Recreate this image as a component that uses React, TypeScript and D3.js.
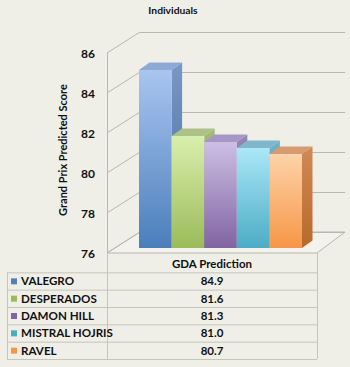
import React from "react";
import * as d3 from "d3";

const title = "Individuals";
const yTitle = "Grand Prix Predicted Score";
const seriesName = "GDA Prediction";
const categories = ["VALEGRO", "DESPERADOS", "DAMON HILL", "MISTRAL HOJRIS", "RAVEL"];
const values = [84.9, 81.6, 81.3, 81.0, 80.7];
const valueLabels = ["84.9", "81.6", "81.3", "81.0", "80.7"];
const yTicks = [76, 78, 80, 82, 84, 86];
const frontTop = ["#a9c5f0", "#d9efad", "#cdbfe4", "#abe7f8", "#fdd3a9"];
const frontBottom = ["#4a7ebb", "#9bbb59", "#8064a2", "#4bacc6", "#f79646"];
const sideTop = ["#7b97c6", "#a3bb78", "#9886b5", "#6fb3c9", "#d08a55"];
const sideBottom = ["#3e689c", "#7e9a45", "#65508a", "#3a8ca3", "#b8692b"];
const topFace = ["#8fa9d7", "#aac287", "#a797c4", "#80b6ca", "#d69b71"];
const legendColors = ["#4f81bd", "#9bbb59", "#8064a2", "#4bacc6", "#f79646"];

const W = 350, H = 367;
const FONT = "Lato, 'Open Sans', sans-serif";
const GRID = "#b9b8ae";
const TABLE = "#c6c5bb";

export default function App() {
  const yFront = d3.scaleLinear().domain([76, 86]).range([253, 53]);
  const yBack = d3.scaleLinear().domain([76, 86]).range([232, 32]);
  const yBar = d3.scaleLinear().domain([76, 86]).range([248, 48]);
  const x = d3.scaleBand<string>().domain(categories).range([139, 302]).paddingInner(0);
  const rows = d3.scaleBand<string>().domain(["__header", ...categories]).range([255, 359]);
  const wallLeftFront = 107, wallLeftBack = 140, wallRightBack = 345, floorRightFront = 317;
  const tableLeft = 7;
  const ddx = 10.5, ddy = -7.5;

  return (
    <svg width={W} height={H} style={{ position: "absolute", left: 0, top: 0, background: "#efeee7" }}>
      <defs>
        {categories.map((c, i) => (
          <React.Fragment key={c}>
            <linearGradient id={`f${i}`} x1="0" y1="0" x2="0" y2="1">
              <stop offset="0" stopColor={frontTop[i]} />
              <stop offset="1" stopColor={frontBottom[i]} />
            </linearGradient>
            <linearGradient id={`s${i}`} x1="0" y1="0" x2="0" y2="1">
              <stop offset="0" stopColor={sideTop[i]} />
              <stop offset="1" stopColor={sideBottom[i]} />
            </linearGradient>
          </React.Fragment>
        ))}
      </defs>
      <rect width={W} height={H} fill="#efeee7" />
      <text x={173} y={14} textAnchor="middle" fontFamily={FONT} fontWeight="bold" fontSize={10.3} fill="#111">{title}</text>

      {/* floor */}
      <path d={`M${wallLeftFront},${yFront(76)}L${floorRightFront},${yFront(76)}L${wallRightBack},${yBack(76)}L${wallLeftBack},${yBack(76)}Z`} fill="#f3f2ec" stroke={GRID} strokeWidth={1} />
      {/* walls gridlines */}
      {yTicks.map((t) => (
        <g key={t}>
          <line x1={wallLeftBack} x2={wallRightBack} y1={yBack(t) + 0.5} y2={yBack(t) + 0.5} stroke={GRID} strokeWidth={1} />
          <line x1={wallLeftFront} x2={wallLeftBack} y1={yFront(t)} y2={yBack(t)} stroke={GRID} strokeWidth={1} />
          <text x={95} y={yFront(t) + 5} textAnchor="end" fontFamily={FONT} fontWeight="bold" fontSize={12} fill="#111">{t}</text>
        </g>
      ))}
      <line x1={wallLeftFront + 0.5} x2={wallLeftFront + 0.5} y1={yFront(86)} y2={yFront(76)} stroke={GRID} strokeWidth={1} />

      <text transform={`translate(67,150) rotate(-90)`} textAnchor="middle" fontFamily={FONT} fontWeight="bold" fontSize={11} fill="#111">{yTitle}</text>

      {/* bars */}
      {categories.map((c, i) => {
        const x0 = x(c)!;
        const x1 = x0 + x.bandwidth();
        const yt = yBar(values[i]);
        const yb = yBar(76);
        return (
          <g key={c}>
            <path d={`M${x1},${yt}L${x1 + ddx},${yt + ddy}L${x1 + ddx},${yb + ddy}L${x1},${yb}Z`} fill={`url(#s${i})`} />
            <path d={`M${x0},${yt}L${x0 + ddx},${yt + ddy}L${x1 + ddx},${yt + ddy}L${x1},${yt}Z`} fill={topFace[i]} />
            <rect x={x0} y={yt} width={x.bandwidth()} height={yb - yt} fill={`url(#f${i})`} />
          </g>
        );
      })}

      {/* table */}
      <g stroke={TABLE} strokeWidth={1}>
        <line x1={wallLeftFront + 0.5} x2={wallLeftFront + 0.5} y1={yFront(76)} y2={rows.range()[1]} />
        <line x1={floorRightFront + 0.5} x2={floorRightFront + 0.5} y1={yFront(76)} y2={rows.range()[1]} />
        <line x1={tableLeft + 0.5} x2={tableLeft + 0.5} y1={rows(categories[0])!} y2={rows.range()[1]} />
        {categories.map((c) => (
          <line key={c} x1={tableLeft} x2={floorRightFront} y1={rows(c)! + 0.5} y2={rows(c)! + 0.5} />
        ))}
        <line x1={tableLeft} x2={floorRightFront} y1={rows.range()[1] + 0.5} y2={rows.range()[1] + 0.5} />
      </g>
      <text x={(wallLeftFront + floorRightFront) / 2} y={rows("__header")! + 13} textAnchor="middle" fontFamily={FONT} fontWeight="bold" fontSize={11.5} fill="#111">{seriesName}</text>
      {categories.map((c, i) => (
        <g key={c}>
          <rect x={11} y={rows(c)! + 6} width={6} height={6} fill={legendColors[i]} />
          <text x={21} y={rows(c)! + 13} fontFamily={FONT} fontWeight="bold" fontSize={11.6} fill="#111">{c}</text>
          <text x={(wallLeftFront + floorRightFront) / 2} y={rows(c)! + 13} textAnchor="middle" fontFamily={FONT} fontWeight="bold" fontSize={11.5} fill="#111">{valueLabels[i]}</text>
        </g>
      ))}
    </svg>
  );
}
